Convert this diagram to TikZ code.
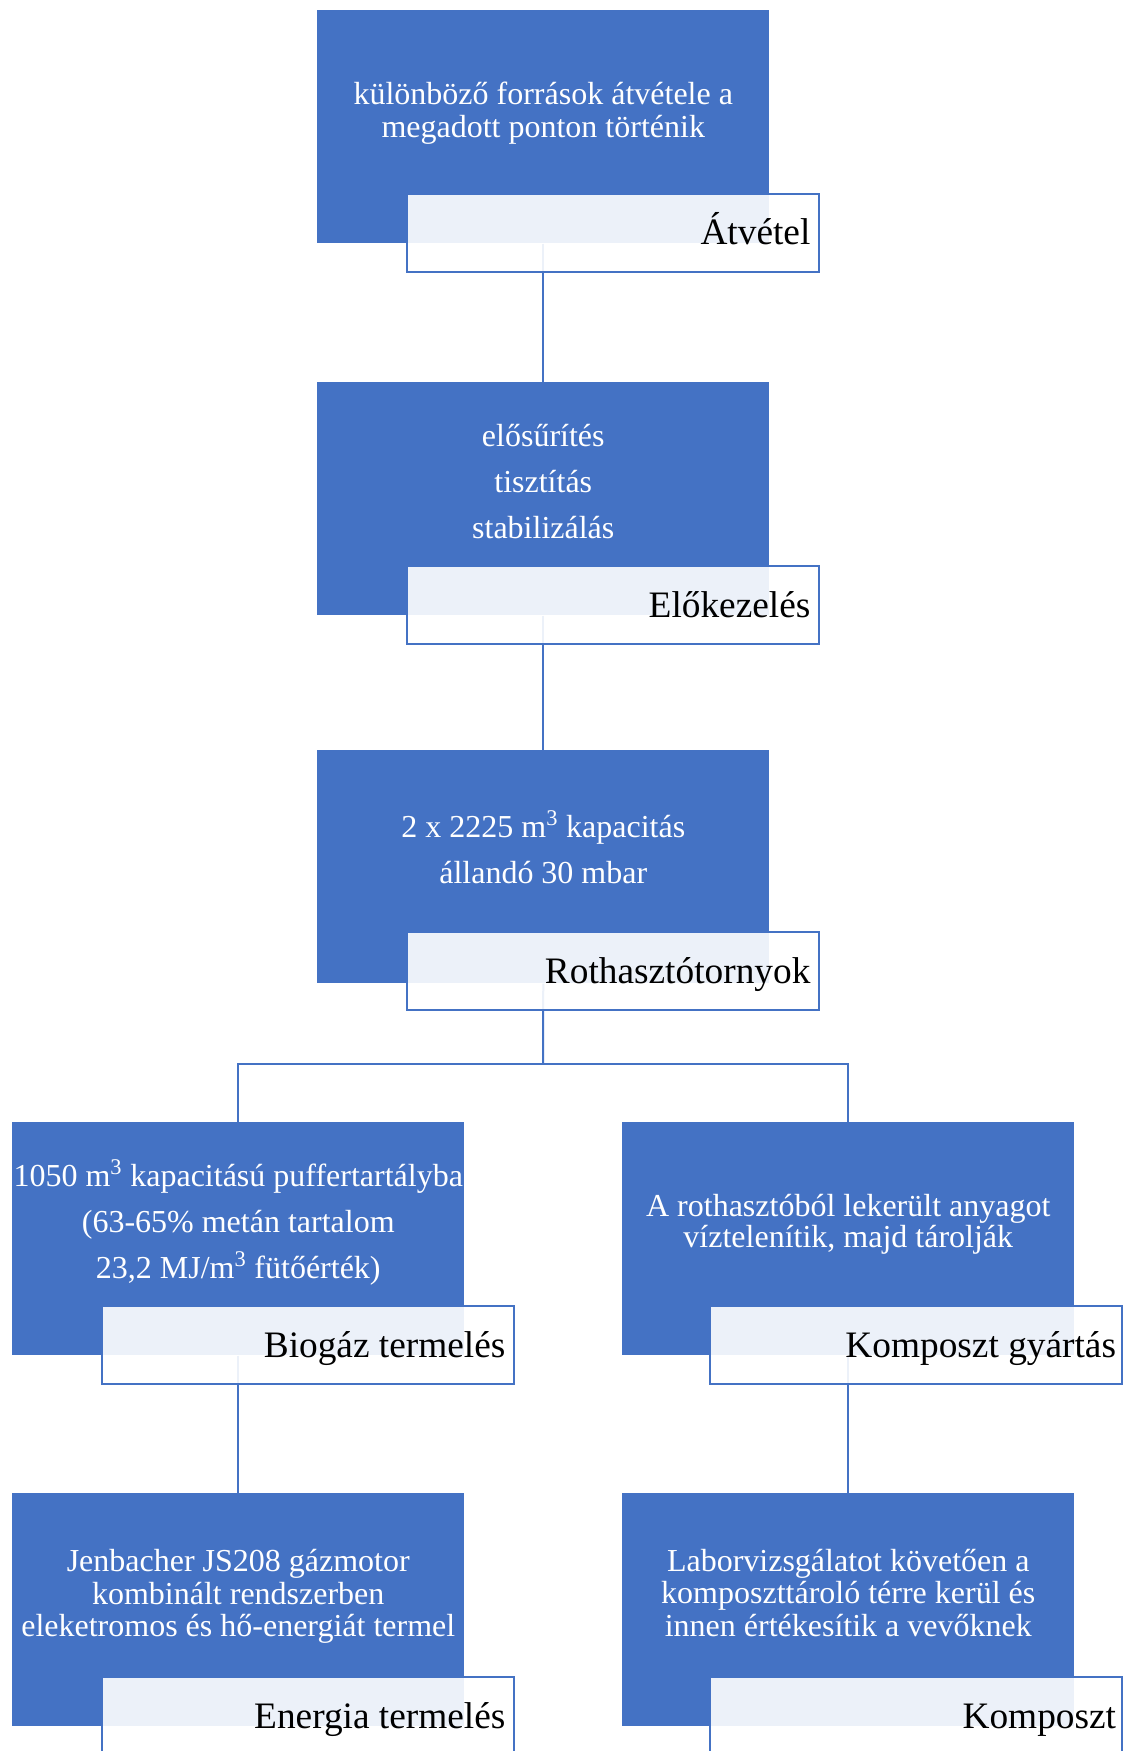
\documentclass[tikz,border=0pt]{standalone}
\usepackage{fontspec}
\setmainfont{Liberation Serif}
\definecolor{accent}{HTML}{4472C4}
\begin{document}
\begin{tikzpicture}[x=0.75pt,y=-0.75pt,
  bluebox/.style={fill=accent, draw=none, inner sep=0pt, anchor=north west,
    minimum width=339pt, minimum height=174.75pt},
  lblbox/.style={draw=accent, line width=1.5pt, fill=white, fill opacity=0.9,
    text opacity=1, inner sep=0pt, anchor=north west,
    minimum width=309pt, minimum height=58.5pt},
  lbltext/.style={text=black, inner sep=0pt, anchor=base east,
    font=\fontsize{28}{30}\selectfont},
  bodytext/.style={text=white, inner sep=0pt, align=center,
    font=\fontsize{24}{24.5}\selectfont},
  paratext/.style={text=white, inner sep=0pt, align=center,
    font=\fontsize{24}{34.5}\selectfont},
  conn/.style={draw=accent, line width=1.5pt}]
\useasboundingbox (0,0) rectangle (1123,1751);
% blue boxes
\node[bluebox] (b1) at (317,10) {};
\node[bluebox] (b2) at (317,382) {};
\node[bluebox] (b3) at (317,750) {};
\node[bluebox] (b4) at (12,1122) {};
\node[bluebox] (b5) at (622,1122) {};
\node[bluebox] (b6) at (12,1493) {};
\node[bluebox] (b7) at (622,1493) {};
% connectors
\coordinate (j) at (543,1064);
\draw[conn] (b1.south) -- (b2.north);
\draw[conn] (b2.south) -- (b3.north);
\draw[conn] (b3.south) -- (j);
\draw[conn] (j) -| (b4.north);
\draw[conn] (j) -| (b5.north);
\draw[conn] (b4.south) -- (b6.north);
\draw[conn] (b5.south) -- (b7.north);
% label boxes
\node[lblbox] (l1) at (406,193) {};
\node[lblbox] (l2) at (406,565) {};
\node[lblbox] (l3) at (406,931) {};
\node[lblbox] (l4) at (101,1305) {};
\node[lblbox] (l5) at (709,1305) {};
\node[lblbox] (l6) at (101,1676) {};
\node[lblbox] (l7) at (709,1676) {};
% label texts
\node[lbltext] (k1) at ([xshift=-7pt,yshift=-9pt]l1.east) {Átvétel};
\node[lbltext] (k2) at ([xshift=-7pt,yshift=-9pt]l2.east) {Előkezelés};
\node[lbltext] (k3) at ([xshift=-7pt,yshift=-9pt]l3.east) {Rothasztótornyok};
\node[lbltext] (k4) at ([xshift=-7pt,yshift=-9pt]l4.east) {Biogáz termelés};
\node[lbltext] (k5) at ([xshift=-5pt,yshift=-9pt]l5.east) {Komposzt gyártás};
\node[lbltext] (k6) at ([xshift=-7pt,yshift=-9pt]l6.east) {Energia termelés};
\node[lbltext] (k7) at ([xshift=-5pt,yshift=-9pt]l7.east) {Komposzt};
% body texts
\node[bodytext] (t1) at ([yshift=-77.5pt]b1.north) {különböző források átvétele a\\megadott ponton történik};
\node[paratext] (t2) at ([yshift=-75pt]b2.north) {elősűrítés\\tisztítás\\stabilizálás};
\node[paratext] (t3) at ([yshift=-73pt]b3.north) {2 x 2225 m\textsuperscript{3} kapacitás\\állandó 30 mbar};
\node[paratext] (t4) at ([yshift=-75pt]b4.north) {1050 m\textsuperscript{3} kapacitású puffertartályba\\(63-65\% metán tartalom\\23,2 MJ/m\textsuperscript{3} fütőérték)};
\node[bodytext,font=\fontsize{24}{23.5}\selectfont] (t5) at ([yshift=-76.7pt]b5.north) {A rothasztóból lekerült anyagot\\víztelenítik, majd tárolják};
\node[bodytext] (t6) at ([yshift=-77.5pt]b6.north) {Jenbacher JS208 gázmotor\\kombinált rendszerben\\eleketromos és hő-energiát termel};
\node[bodytext] (t7) at ([yshift=-75pt]b7.north) {Laborvizsgálatot követően a\\komposzttároló térre kerül és\\innen értékesítik a vevőknek};
\end{tikzpicture}
\end{document}
